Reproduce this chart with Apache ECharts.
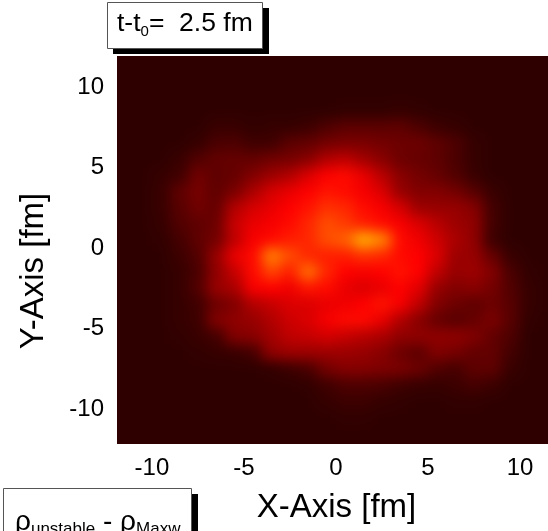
<!DOCTYPE html>
<html><head><meta charset="utf-8">
<script src="https://cdn.jsdelivr.net/npm/echarts@6/dist/echarts.min.js"></script>
<style>
html,body{margin:0;padding:0;background:#fff;width:548px;height:531px;overflow:hidden}
#clip{position:absolute;left:117px;top:56px;width:431px;height:388px;overflow:hidden;background:#2f0000}
#heat{position:absolute;left:-20px;top:-12px;width:470px;height:420px;filter:blur(6.5px)}
#axes{position:absolute;left:0;top:0;width:548px;height:531px}
</style></head><body>
<div id="clip"><div id="heat"></div></div>
<div id="axes"></div>
<script>
const xCells=[-11.5,-10.5,-9.5,-8.5,-7.5,-6.5,-5.5,-4.5,-3.5,-2.5,-1.5,-0.5,0.5,1.5,2.5,3.5,4.5,5.5,6.5,7.5,8.5,9.5,10.5,11.5];
const yCells=[11.5,10.5,9.5,8.5,7.5,6.5,5.5,4.5,3.5,2.5,1.5,0.5,-0.5,-1.5,-2.5,-3.5,-4.5,-5.5,-6.5,-7.5,-8.5,-9.5,-10.5,-11.5];
const density=[
[0,0,0,0,0,0,0,0,0,0,0,0,0,0,0,0,0,0,0,0,0,0,0,0],
[0,0,0,0,0,0,0,0,0,0,0,0,0,0,0,0,0,0,0,0,0,0,0,0],
[0,0,0,0,0,0,0,0,0,0,0,0,0,0,0,0,0,0,0,0,0,0,0,0],
[0,0,0,0,0,0,0,0,0,0,0,0,1,1,1,2,1,0,0,0,0,0,0,0],
[0,0,0,0,0,3,3,1,2,2,4,9,13,13,13,14,9,4,2,0,0,0,0,0],
[0,0,0,0,2,8,9,5,5,13,15,20,22,22,20,18,18,14,9,2,0,0,0,0],
[0,0,0,3,10,15,16,15,19,21,26,38,42,34,26,18,16,14,8,2,0,0,0,0],
[0,0,2,5,19,14,16,24,32,38,50,60,62,54,40,26,20,16,10,3,0,0,0,0],
[0,0,3,14,21,14,22,36,48,54,60,64,62,58,50,30,24,24,20,12,3,0,0,0],
[0,0,3,12,19,16,38,48,54,60,64,70,68,62,58,48,32,30,30,25,6,0,0,0],
[0,0,2,10,14,18,44,54,58,62,68,76,72,66,62,58,50,40,32,28,6,0,0,0],
[0,0,1,6,14,20,42,58,62,66,68,76,80,100,90,62,56,46,36,28,4,0,0,0],
[0,0,0,4,10,30,54,62,88,76,68,66,66,70,68,62,60,50,32,30,16,3,0,0],
[0,0,0,2,8,28,44,62,74,66,84,68,60,58,60,64,60,42,30,32,24,8,1,0],
[0,0,0,2,10,30,36,58,60,56,64,62,54,50,54,60,52,30,24,26,20,10,2,0],
[0,0,0,2,5,18,24,38,44,50,50,54,56,60,64,58,42,24,18,14,18,12,2,0],
[0,0,0,2,4,24,28,30,38,46,50,58,62,62,54,38,26,16,12,16,22,12,1,0],
[0,0,0,1,3,6,24,26,34,42,44,48,44,40,36,28,28,28,28,24,15,9,0,0],
[0,0,0,0,1,2,3,7,28,32,32,32,32,30,26,18,13,24,21,15,15,6,0,0],
[0,0,0,0,0,0,0,0,1,4,8,20,25,25,23,22,18,10,7,14,14,3,0,0],
[0,0,0,0,0,0,0,0,0,0,1,5,9,9,8,5,3,2,4,7,4,0,0,0],
[0,0,0,0,0,0,0,0,0,0,0,2,4,4,2,1,0,0,1,1,0,0,0,0],
[0,0,0,0,0,0,0,0,0,0,0,0,1,1,0,0,0,0,0,0,0,0,0,0],
[0,0,0,0,0,0,0,0,0,0,0,0,0,0,0,0,0,0,0,0,0,0,0,0]
];
const tickValues=[-10,-5,0,5,10];
const cells=[];
density.forEach((row,j)=>row.forEach((v,i)=>cells.push([i,j,v])));

const heat=echarts.init(document.getElementById('heat'),null,{renderer:'canvas'});
heat.setOption({
  animation:false,backgroundColor:'#2f0000',
  grid:{left:18.2,top:10.8,width:441.6,height:386.4},
  xAxis:{type:'category',data:xCells,show:false},
  yAxis:{type:'category',data:yCells,inverse:true,show:false},
  visualMap:{show:false,min:0,max:100,dimension:2,
    inRange:{color:['#2f0000','#740000','#b90000','#ff0000','#ff6000','#ffb000']}},
  series:[{type:'heatmap',data:cells,silent:true,itemStyle:{borderWidth:0},progressive:0}]
});

const axes=echarts.init(document.getElementById('axes'));
const font='"Liberation Sans",Arial,sans-serif';
const tick={customValues:tickValues,fontFamily:font,fontSize:24,color:'#000',showMinLabel:true,showMaxLabel:true};
axes.setOption({
  animation:false,
  grid:{left:117,top:56,width:431,height:388},
  xAxis:{type:'value',min:-11.9,max:11.52,splitLine:{show:false},axisLine:{show:false},axisTick:{show:false},
    axisLabel:Object.assign({margin:12},tick),name:'X-Axis [fm]',nameLocation:'middle',nameGap:47,
    nameTextStyle:{fontFamily:font,fontSize:33,color:'#000',padding:[0,0,0,8]}},
  yAxis:{type:'value',min:-12.17,max:11.93,splitLine:{show:false},axisLine:{show:false},axisTick:{show:false},
    axisLabel:Object.assign({margin:13},tick),name:'Y-Axis [fm]',nameLocation:'middle',nameGap:67,
    nameTextStyle:{fontFamily:font,fontSize:33,color:'#000',padding:[0,42,0,0]}},
  graphic:[
    {type:'rect',shape:{x:113,y:8,width:156,height:46},style:{fill:'#000'},z:10},
    {type:'rect',shape:{x:107.5,y:2.5,width:155,height:46},style:{fill:'#fff',stroke:'#555',lineWidth:1},z:11},
    {type:'text',x:117,y:24,z:12,style:{text:'{a|t-t}{s|0}{a|=  2.5 fm}',verticalAlign:'middle',
      rich:{a:{fontFamily:font,fontSize:26.5,color:'#000'},s:{fontFamily:font,fontSize:15,color:'#000',padding:[16,0,0,0]}}}},
    {type:'rect',shape:{x:9,y:494,width:189,height:50},style:{fill:'#000'},z:10},
    {type:'rect',shape:{x:3.5,y:488.5,width:188,height:50},style:{fill:'#fff',stroke:'#555',lineWidth:1},z:11},
    {type:'text',x:15,y:522,z:12,style:{text:'{a|\u03c1}{s|unstable}{a| - \u03c1}{s|Maxw}',verticalAlign:'middle',
      rich:{a:{fontFamily:font,fontSize:28,color:'#000'},s:{fontFamily:font,fontSize:17,color:'#000',padding:[14,0,0,0]}}}}
  ]
});
</script></body></html>
